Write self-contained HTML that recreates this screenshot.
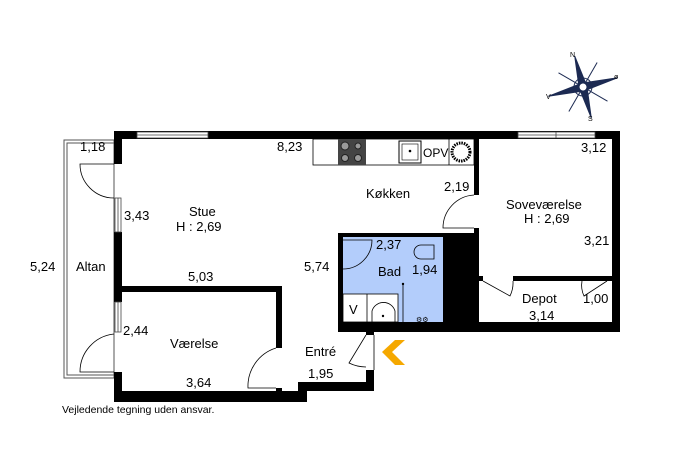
<!DOCTYPE html>
<html><head><meta charset="utf-8"><style>
html,body{margin:0;padding:0;background:#fff;}
svg{display:block;font-family:"Liberation Sans",sans-serif;}
text{font-size:13px;fill:#000;}
</style></head><body>
<svg width="687" height="457" viewBox="0 0 687 457" xmlns="http://www.w3.org/2000/svg">
<rect x="64" y="140" width="50" height="238" fill="none" stroke="#555" stroke-width="1"/>
<rect x="67" y="143" width="47" height="232" fill="none" stroke="#555" stroke-width="1"/>
<rect x="343" y="237" width="100" height="85" fill="#b3cdfb"/>
<rect x="343" y="294" width="55" height="28" fill="#fff" stroke="#000" stroke-width="0.8"/>
<line x1="367" y1="294" x2="367" y2="322" stroke="#000" stroke-width="0.8"/>
<rect x="313" y="139" width="161" height="26" fill="#fff" stroke="#000" stroke-width="0.8"/>
<rect x="338" y="139" width="28" height="26" fill="#444"/>
<circle cx="345" cy="146" r="4" fill="#999" stroke="#222"/><circle cx="358" cy="146" r="3" fill="#999" stroke="#222"/>
<circle cx="345" cy="158" r="3.5" fill="#999" stroke="#222"/><circle cx="358" cy="158" r="3.5" fill="#999" stroke="#222"/>
<rect x="399" y="141" width="22" height="22" fill="#fff" stroke="#000"/><rect x="402" y="144" width="16" height="16" fill="#fff" stroke="#000" stroke-width="0.6"/>
<circle cx="410" cy="151" r="1.3"/>
<circle cx="461" cy="152" r="9" fill="#fff" stroke="#000" stroke-width="3" stroke-dasharray="1.5 1"/>
<line x1="449" y1="139" x2="449" y2="165" stroke="#000" stroke-width="0.8"/>
<text x="423" y="157" style="font-size:12px">OPV</text>
<g fill="#000">
<rect x="114" y="131" width="506" height="8"/>
<rect x="114" y="131" width="8" height="33"/>
<rect x="114" y="232" width="8" height="70"/>
<rect x="114" y="372" width="8" height="30"/>
<rect x="114" y="391" width="193" height="11"/>
<rect x="298" y="382" width="76" height="9"/>
<rect x="366" y="370" width="8" height="20"/>
<rect x="366" y="327" width="8" height="8"/>
<rect x="122" y="286" width="160" height="6"/>
<rect x="276" y="286" width="6" height="62"/>
<rect x="276" y="388" width="6" height="5"/>
<rect x="338" y="233" width="139" height="4"/>
<rect x="338" y="233" width="5" height="94"/>
<rect x="338" y="322" width="282" height="10"/>
<rect x="443" y="233" width="36" height="94"/>
<rect x="474" y="139" width="5" height="56"/>
<rect x="474" y="228" width="5" height="10"/>
<rect x="612" y="131" width="8" height="201"/>
<rect x="513" y="276" width="99" height="5"/>
<rect x="479" y="276" width="4" height="5"/>
<rect x="607" y="276" width="5" height="5"/>
</g>
<g fill="#fff" stroke="#444" stroke-width="0.8">
<rect x="137" y="132" width="71" height="6"/><line x1="137" y1="135" x2="208" y2="135"/>
<rect x="518" y="132" width="77" height="6"/><line x1="518" y1="135" x2="595" y2="135"/><line x1="556" y1="132" x2="556" y2="138"/>
<rect x="115" y="198" width="6" height="34"/><line x1="118" y1="198" x2="118" y2="232"/>
<rect x="115" y="302" width="6" height="30"/><line x1="118" y1="302" x2="118" y2="332"/>
</g>
<g fill="none" stroke="#000" stroke-width="0.8">
<path d="M114 164 L80 164 A34 34 0 0 0 114 198"/>
<path d="M114 372 L80 372 A38 38 0 0 1 114 334"/>
<path d="M276 348 A40 40 0 0 0 248 388 L276 388"/>
<path d="M474 195 A33 33 0 0 0 443 228 L474 228"/>
<path d="M343 240 L372 240 A29 29 0 0 1 343 269"/>
<path d="M366 335 L349 363 A40 40 0 0 0 366 367"/>
<path d="M483 281 L510 296 A30 30 0 0 0 513 281"/>
<path d="M607 281 L584 296 A25 25 0 0 1 582 281"/>
<line x1="374" y1="335" x2="374" y2="370"/>
<path d="M434 245 L421 245 A7 7 0 0 0 421 259 L434 259 Z"/>
<path d="M372 322 L372 311 A12 12 0 0 1 395 311 L395 322"/>
<line x1="403" y1="284" x2="403" y2="322"/>
</g>
<circle cx="383" cy="316" r="1.2"/><circle cx="403" cy="284" r="1.2"/>
<text x="416" y="322" style="font-size:7px">⚙⚙</text>
<polygon points="395,340 405,340 392,352 405,365 395,365 382,352" fill="#f5a800"/>
<g transform="translate(583,87) rotate(-15)" stroke="#1c2a52" stroke-width="1">
<line x1="-20" y1="-20" x2="20" y2="20"/><line x1="20" y1="-20" x2="-20" y2="20"/>
<circle r="9" fill="none"/>
<polygon points="0,-32 4,0 0,32 -4,0" fill="#1c2a52"/>
<polygon points="-36,0 0,-4 36,0 0,4" fill="#1c2a52"/>
<circle r="4" fill="#fff"/>
</g>
<g fill="#1c2a52"><text x="570" y="57" style="font-size:7px">N</text><text x="588" y="121" style="font-size:7px">S</text><text x="614" y="79" style="font-size:7px">ø</text><text x="546" y="99" style="font-size:7px">V</text></g>
<text x="80" y="151">1,18</text>
<text x="277" y="151">8,23</text>
<text x="366" y="198">Køkken</text>
<text x="444" y="191">2,19</text>
<text x="581" y="152">3,12</text>
<text x="506" y="209">Soveværelse</text>
<text x="524" y="223">H : 2,69</text>
<text x="584" y="245">3,21</text>
<text x="189" y="216">Stue</text>
<text x="176" y="231">H : 2,69</text>
<text x="124" y="220">3,43</text>
<text x="76" y="271">Altan</text>
<text x="30" y="271">5,24</text>
<text x="188" y="281">5,03</text>
<text x="304" y="271">5,74</text>
<text x="376" y="249">2,37</text>
<text x="378" y="276">Bad</text>
<text x="412" y="274">1,94</text>
<text x="349" y="314">V</text>
<text x="522" y="303">Depot</text>
<text x="583" y="303">1,00</text>
<text x="529" y="320">3,14</text>
<text x="123" y="335">2,44</text>
<text x="170" y="348">Værelse</text>
<text x="305" y="356">Entré</text>
<text x="308" y="378">1,95</text>
<text x="186" y="387">3,64</text>
<text x="62" y="413" style="font-size:10.5px">Vejledende tegning uden ansvar.</text>
</svg>
</body></html>
